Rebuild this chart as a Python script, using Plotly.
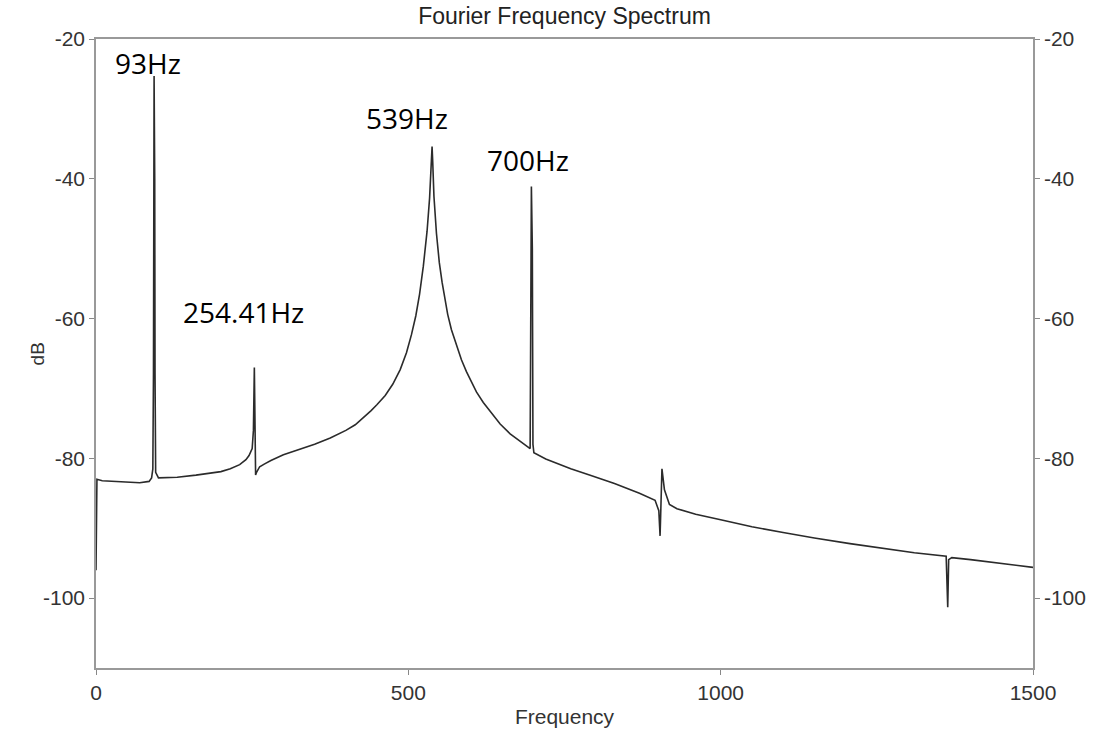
import plotly.graph_objects as go

# Data
freq = [0, 1.5, 10, 40, 70, 85, 89, 91, 92, 93, 94, 94.5, 95.5, 100, 130, 160, 180, 200, 215, 230,
        240, 245, 250, 252, 253.5, 254.5, 255.5, 257, 262, 270, 280, 300, 325, 350, 375, 400, 415,
        427, 440, 450, 463, 475, 487, 497, 505, 512, 518, 524, 530, 534, 537, 538, 539, 541, 545,
        549.6, 554, 558, 563, 569, 577, 585, 593, 600, 609, 620, 630, 647, 663, 680, 692, 695, 697,
        698.5, 699.5, 701, 720, 760, 790, 830, 870, 895, 901, 903, 904, 906, 910, 918, 930, 960,
        1000, 1050, 1100, 1150, 1207, 1260, 1310, 1361, 1362.5, 1363.5, 1365, 1370, 1400, 1450, 1500]
db = [-96, -83, -83.2, -83.4, -83.5, -83.3, -82.8, -81.5, -68, -25.3, -40, -68, -82, -82.8, -82.7,
      -82.4, -82.2, -81.9, -81.5, -80.9, -80.2, -79.6, -78.6, -76, -67, -72, -82.4, -82.0, -81.2,
      -80.8, -80.3, -79.5, -78.8, -78.0, -77.1, -76.0, -75.2, -74.3, -73.2, -72.3, -71.0, -69.4,
      -67.3, -64.9, -62.3, -59.6, -56.5, -52.5, -47.5, -42.8, -37.5, -35.4, -37.5, -42.5, -47.8,
      -52.0, -54.8, -57.0, -59.4, -61.6, -63.9, -65.9, -67.6, -68.9, -70.5, -72.0, -73.2, -75.1,
      -76.5, -77.6, -78.3, -78.6, -41.1, -50, -78, -79.2, -80.1, -81.5, -82.4, -83.6, -85.0, -86.0,
      -87.5, -91.1, -88, -81.5, -84.5, -86.6, -87.2, -88, -88.8, -89.8, -90.6, -91.4, -92.2, -92.9,
      -93.5, -94.0, -97, -101.3, -94.5, -94.2, -94.5, -95.0, -95.6]

peak_labels = ["93Hz", "254.41Hz", "539Hz", "700Hz"]
label_x = [83.2, 236.9, 497.8, 691.5]
label_y = [-23.4, -59.0, -31.3, -37.3]

x_ticks = [0, 500, 1000, 1500]
y_ticks = [-20, -40, -60, -80, -100]
y_tick_text = ["-20", "-40", "-60", "-80", "-100"]

fig = go.Figure()
fig.add_trace(go.Scatter(x=freq, y=db, mode="lines",
                         line=dict(color="#2b2b2b", width=1.6), showlegend=False,
                         hoverinfo="x+y"))
# invisible trace so the right-hand axis is drawn
fig.add_trace(go.Scatter(x=[freq[0]], y=[db[0]], yaxis="y2", mode="markers",
                         marker=dict(opacity=0), showlegend=False, hoverinfo="skip"))

for t, lx, ly in zip(peak_labels, label_x, label_y):
    fig.add_annotation(x=lx, y=ly, xref="x", yref="y", text=t, showarrow=False,
                       font=dict(family="Open Sans", size=28, color="black"))

axis_font = dict(family="Liberation Sans, Arial", size=21, color="#333333")

# y-axis title placed as rotated text (it sits beside the widest tick label)
fig.add_annotation(x=-0.062, y=0.5, xref="paper", yref="paper", text="dB", textangle=-90,
                   showarrow=False, xanchor="center", yanchor="middle",
                   font=dict(family="Liberation Sans, Arial", size=19, color="#333333"))

fig.update_layout(
    width=1094, height=731,
    margin=dict(l=96, r=61, t=39, b=63, autoexpand=False),
    plot_bgcolor="white", paper_bgcolor="white",
    title=dict(text="Fourier Frequency Spectrum", x=0.516, xanchor="center", y=0.978,
               yanchor="middle", font=dict(family="Liberation Sans, Arial", size=23, color="#222222")),
    xaxis=dict(range=[0, 1500], tickvals=x_ticks, ticks="outside", ticklen=5,
               tickcolor="#888888", showline=True, linecolor="#999999", linewidth=1.5,
               mirror=True, showgrid=False, zeroline=False, tickfont=axis_font,
               automargin=False,
               title=dict(text="Frequency", font=axis_font, standoff=6)),
    yaxis=dict(range=[-110, -20], tickvals=y_ticks, ticktext=y_tick_text, ticks="outside",
               ticklen=5, tickcolor="#888888", showline=True, linecolor="#999999",
               linewidth=1.5, showgrid=False, zeroline=False, tickfont=axis_font,
               automargin=False),
    yaxis2=dict(range=[-110, -20], tickvals=y_ticks, ticktext=y_tick_text, ticks="outside",
                ticklen=5, tickcolor="#888888", overlaying="y", side="right", showline=True,
                linecolor="#999999", linewidth=1.5, showgrid=False, zeroline=False,
                tickfont=axis_font, automargin=False),
)

fig.write_html("out.html")
